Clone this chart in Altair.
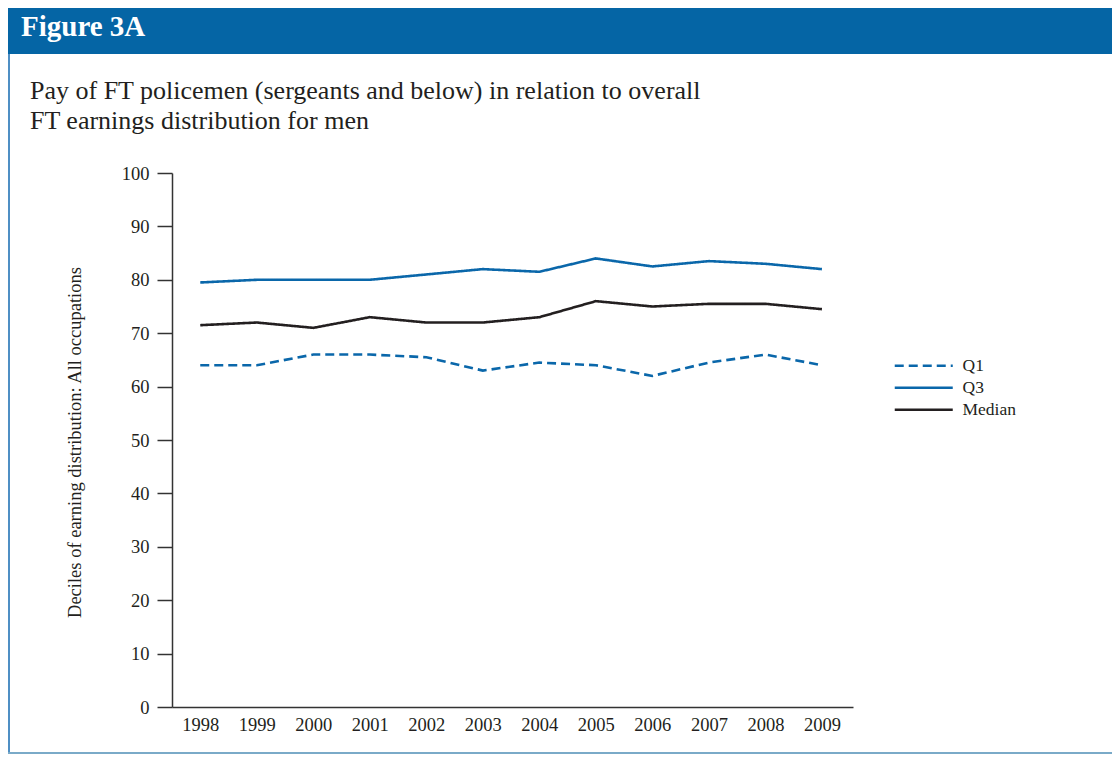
import altair as alt
import pandas as pd

years = list(range(1998, 2010))
q1 = [64.0, 64.0, 66.0, 66.0, 65.5, 63.0, 64.5, 64.0, 62.0, 64.5, 66.0, 64.0]
q3 = [79.5, 80.0, 80.0, 80.0, 81.0, 82.0, 81.5, 84.0, 82.5, 83.5, 83.0, 82.0]
median = [71.5, 72.0, 71.0, 73.0, 72.0, 72.0, 73.0, 76.0, 75.0, 75.5, 75.5, 74.5]
series_names = ["Q1", "Q3", "Median"]
series_colors = ["#0a67aa", "#0a67aa", "#231f20"]
series_dashes = [[9, 5], [1, 0], [1, 0]]

header = "Figure 3A"
subtitle = ["Pay of FT policemen (sergeants and below) in relation to overall",
            "FT earnings distribution for men"]
y_title = "Deciles of earning distribution: All occupations"

rows = []
for name, vals in zip(series_names, [q1, q3, median]):
    for yr, v in zip(years, vals):
        rows.append({"year": yr, "value": v, "series": name})
df = pd.DataFrame(rows)

W, H = 681, 534
PL, PT, PR, PB = 164, 165, 259, 47
TOTAL_W = PL + W + PR

serif = "Liberation Serif"
text_color = "#231f20"

legend_kw = dict(title=None, orient="none", legendX=743, legendY=184,
                 symbolType="M-5,0L5,0", symbolSize=134.6, symbolStrokeWidth=2.6,
                 labelFont=serif, labelFontSize=17.5, labelColor=text_color,
                 rowPadding=3, labelOffset=30, padding=0)

lines = alt.Chart(df).mark_line(strokeWidth=2.6, clip=False).encode(
    x=alt.X("year:Q",
            scale=alt.Scale(domain=[1997.5, 2009.55], nice=False, zero=False),
            axis=alt.Axis(values=years, format="d", title=None, ticks=False,
                          grid=False, labelFontSize=18.5, labelFont=serif,
                          labelColor=text_color, labelPadding=8,
                          domainColor="#333333", domainWidth=1.5,
                          labelFlush=False)),
    y=alt.Y("value:Q",
            scale=alt.Scale(domain=[0, 100], nice=False),
            axis=alt.Axis(values=list(range(0, 101, 10)), title=y_title,
                          grid=False, tickSize=15, tickColor="#333333",
                          tickWidth=1.5, domainColor="#333333", domainWidth=1.5,
                          labelFontSize=18.5, labelFont=serif, labelColor=text_color,
                          labelPadding=8, titleFont=serif, titleFontSize=18.5,
                          titleFontWeight="normal", titleColor=text_color,
                          titleAngle=270, titleX=-98, titleY=H / 2 + 2,
                          titleAlign="center", titleBaseline="middle")),
    color=alt.Color("series:N",
                    scale=alt.Scale(domain=series_names, range=series_colors),
                    legend=alt.Legend(**legend_kw)),
    strokeDash=alt.StrokeDash("series:N",
                              scale=alt.Scale(domain=series_names, range=series_dashes),
                              legend=alt.Legend(**legend_kw)),
)

header_bg = alt.Chart(pd.DataFrame({"t": [header]})).mark_rect(
    color="#0565a5", clip=False).encode(
    x=alt.value(-PL), x2=alt.value(TOTAL_W - PL),
    y=alt.value(-PT), y2=alt.value(-119))

header_txt = alt.Chart(pd.DataFrame({"t": [header]})).mark_text(
    font=serif, fontSize=29, fontWeight="bold", color="white",
    align="left", baseline="alphabetic", clip=False).encode(
    text="t:N", x=alt.value(21 - 8 - PL), y=alt.value(36 - 8 - PT))

sub_txt = alt.Chart(pd.DataFrame({"t": ["\n".join(subtitle)]})).mark_text(
    font=serif, fontSize=26, color=text_color, align="left",
    baseline="alphabetic", lineBreak="\n", lineHeight=30, clip=False).encode(
    text="t:N", x=alt.value(30 - 8 - PL), y=alt.value(99 - 8 - PT))

border_left = alt.Chart(pd.DataFrame({"t": [1]})).mark_rule(
    color="#4f8fc4", strokeWidth=2, clip=False).encode(
    x=alt.value(-PL + 1), y=alt.value(-119), y2=alt.value(H + PB - 1))
border_bottom = alt.Chart(pd.DataFrame({"t": [1]})).mark_rule(
    color="#7aaac8", strokeWidth=2, clip=False).encode(
    x=alt.value(-PL), x2=alt.value(TOTAL_W - PL), y=alt.value(H + PB - 1))

chart = alt.layer(header_bg, header_txt, sub_txt, border_left, border_bottom, lines).properties(
    width=W, height=H,
    padding={"left": PL, "top": PT, "right": PR, "bottom": PB},
    autosize=alt.AutoSizeParams(type="none"),
    background="white",
).configure_view(stroke=None)

chart.save("out.html", embed_options={"renderer": "svg", "actions": False})
